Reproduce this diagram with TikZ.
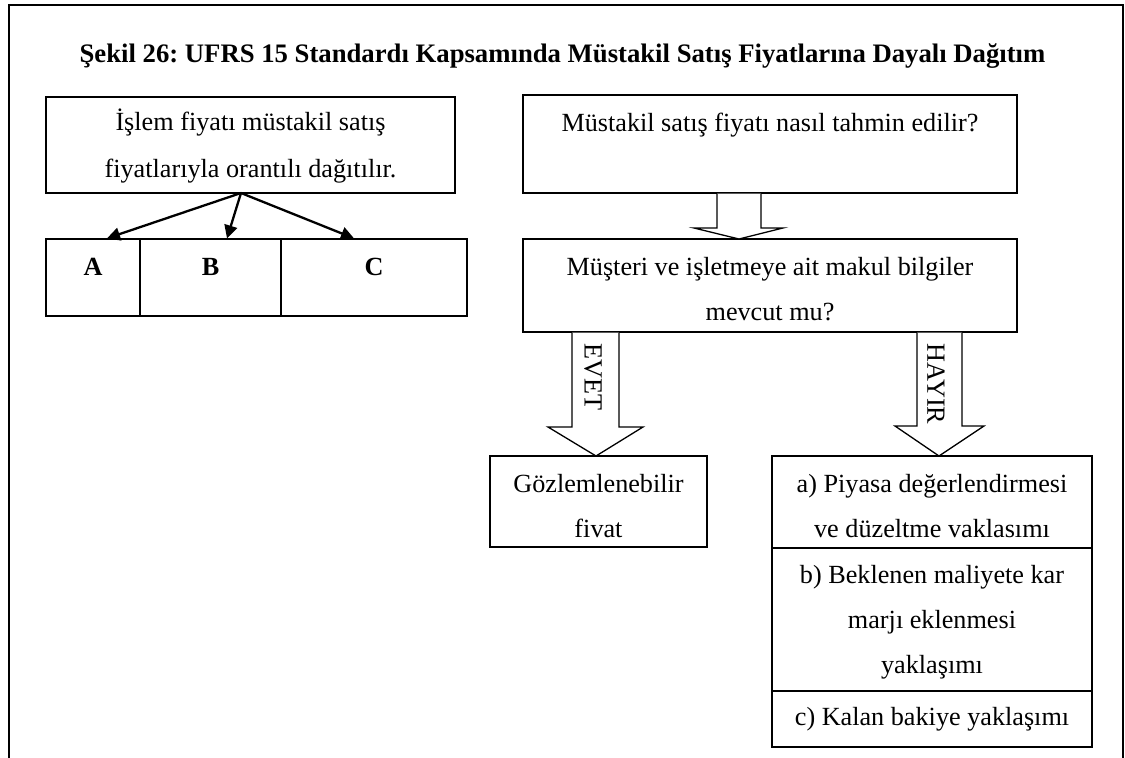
\documentclass[tikz,border=0pt]{standalone}
\usepackage{fontspec}
\setmainfont{Liberation Serif}
\frenchspacing
\usetikzlibrary{arrows.meta}
\tikzset{
  box/.style={draw=black, line width=1.3pt, rectangle, inner sep=0pt, fill=none},
  txt/.style={inner sep=0pt, anchor=base, font=\fontsize{26.2}{30}\selectfont},
  btxt/.style={inner sep=0pt, anchor=base, font=\fontsize{26.2}{30}\selectfont\bfseries},
  ttl/.style={inner sep=0pt, anchor=base, font=\fontsize{26.7}{30}\selectfont\bfseries},
  vtxt/.style={inner sep=0pt, anchor=center, rotate=-90, font=\fontsize{26.2}{30}\selectfont},
  thinarrow/.style={line width=2.3pt, -{Triangle[length=13pt,width=13pt]}},
  blockarrow/.style={draw=black, line width=1.3pt, fill=white, line join=miter},
}
\begin{document}
\begin{tikzpicture}[x=1pt,y=-1pt]
\useasboundingbox (0,0) rectangle (1125,758);
% outer frame (open at bottom)
\draw[line width=2.2pt] (9,770) -- (9,5) -- (1123,5) -- (1123,770);
% title
\node[ttl] (title) at (562.5,62) {Şekil 26: UFRS 15 Standardı Kapsamında Müstakil Satış Fiyatlarına Dayalı Dağıtım};

% left part
\node[box, minimum width=409pt, minimum height=96pt] (l1) at (250.5,145) {};
\node[txt] (l1a) at (250.5,130) {İşlem fiyatı müstakil satış};
\node[txt] (l1b) at (250.5,177) {fiyatlarıyla orantılı dağıtılır.};
\node[box, minimum width=94pt, minimum height=77pt] (ca) at (93,277.5) {};
\node[box, minimum width=141pt, minimum height=77pt] (cb) at (210.5,277.5) {};
\node[box, minimum width=186pt, minimum height=77pt] (cc) at (374,277.5) {};
\node[btxt] (la) at (93,275) {A};
\node[btxt] (lb) at (210.5,275) {B};
\node[btxt] (lc) at (374,275) {C};
\coordinate (src) at (241,193);
\draw[thinarrow] (src) -- (ca.north -| 107,0);
\draw[thinarrow] (src) -- (cb.north -| 227,0);
\draw[thinarrow] (src) -- (cc.north -| 354,0);

% right part
\node[box, minimum width=494pt, minimum height=98pt] (r1) at (770,144) {};
\node[txt] (r1a) at (770,131) {Müstakil satış fiyatı nasıl tahmin edilir?};
\node[box, minimum width=494pt, minimum height=93pt] (r2) at (770,285.5) {};
\node[txt] (r2a) at (770,275) {Müşteri ve işletmeye ait makul bilgiler};
\node[txt] (r2b) at (770,320) {mevcut mu?};

% block arrow r1 -> r2
\draw[blockarrow] (717,193.6) -- (717,228) -- (694,228) -- (739,239) -- (783,228) -- (761,228) -- (761,193.6);

% result boxes
\node[box, minimum width=217pt, minimum height=91pt] (g) at (598.5,501.5) {};
\node[txt] (ga) at (598.5,492.5) {Gözlemlenebilir};
\node[txt] (gb) at (598.5,537) {fivat};

\node[box, minimum width=320pt, minimum height=92pt] (sa) at (932,502) {};
\node[box, minimum width=320pt, minimum height=143pt] (sb) at (932,619.5) {};
\node[box, minimum width=320pt, minimum height=56pt] (sc) at (932,719) {};
\node[txt] (sa1) at (932,492) {a) Piyasa değerlendirmesi};
\node[txt] (sa2) at (932,537) {ve düzeltme vaklasımı};
\node[txt] (sb1) at (932,583) {b) Beklenen maliyete kar};
\node[txt] (sb2) at (932,628) {marjı eklenmesi};
\node[txt] (sb3) at (932,673) {yaklaşımı};
\node[txt] (sc1) at (932,725) {c) Kalan bakiye yaklaşımı};

% EVET arrow r2 -> g
\draw[blockarrow] (572,332.6) -- (572,427) -- (548,427) -- (596,456) -- (643,427) -- (619,427) -- (619,332.6);
\node[vtxt] (evet) at (593,377) {EVET};
% HAYIR arrow r2 -> s
\draw[blockarrow] (917,332.6) -- (917,426) -- (895,426) -- (939,456) -- (984,426) -- (962,426) -- (962,332.6);
\node[vtxt] (hayir) at (936,384) {HAYIR};
\end{tikzpicture}
\end{document}
